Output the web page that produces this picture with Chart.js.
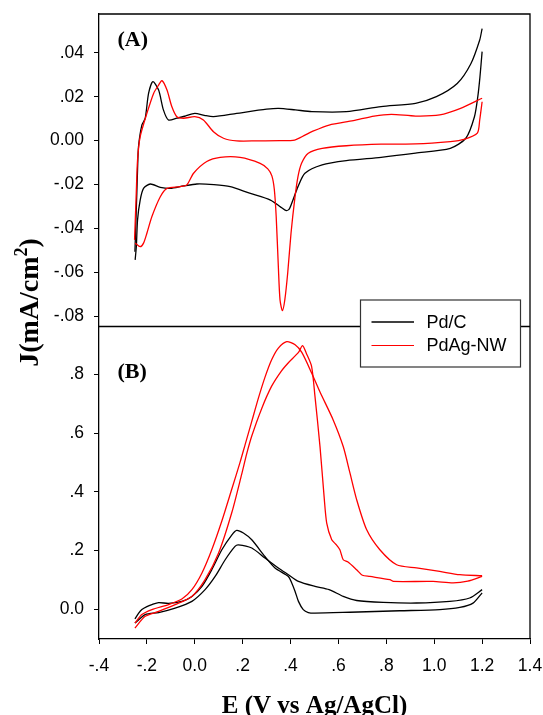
<!DOCTYPE html>
<html>
<head>
<meta charset="utf-8">
<script src="https://cdn.jsdelivr.net/npm/chart.js@4.4.1/dist/chart.umd.min.js"></script>
<style>
html, body { margin: 0; padding: 0; background: #ffffff; }
canvas { display: block; }
</style>
</head>
<body>
<canvas id="c" width="543" height="715"></canvas>
<script>
// ---------- text ----------
const seriesNames = ['Pd/C', 'PdAg-NW'];
const seriesColors = ['#000000', '#ff0000'];
const panelLabels = ['(A)', '(B)'];
const xTitle = 'E (V vs Ag/AgCl)';
const yTitleMain = 'J(mA/cm';
const yTitleSup = '2';
const yTitleEnd = ')';

// ---------- ticks ----------
const xTicks = [-0.4, -0.2, 0.0, 0.2, 0.4, 0.6, 0.8, 1.0, 1.2, 1.4];
const xTickLabels = ['-.4', '-.2', '0.0', '.2', '.4', '.6', '.8', '1.0', '1.2', '1.4'];
const yATicks = [-0.08, -0.06, -0.04, -0.02, 0.0, 0.02, 0.04];
const yATickLabels = ['-.08', '-.06', '-.04', '-.02', '0.00', '.02', '.04'];
const yBTicks = [0.0, 0.2, 0.4, 0.6, 0.8];
const yBTickLabels = ['0.0', '.2', '.4', '.6', '.8'];
const xRange = [-0.4, 1.4];
const yARange = [-0.0845, 0.0576];
const yBRange = [-0.1023, 0.9635];

// ---------- panel A : Pd/C ----------
const pdcA_up_E = [-0.250, -0.242, -0.239, -0.235, -0.221, -0.207, -0.193, -0.175, -0.151, -0.131, -0.110, -0.075, -0.040, 0.000, 0.040, 0.078, 0.175, 0.300, 0.350, 0.420, 0.489, 0.633, 0.778, 0.922, 1.009, 1.096, 1.153, 1.190, 1.200];
const pdcA_up_J = [-0.0505, -0.0239, -0.0133, -0.0027, 0.0071, 0.0102, 0.0215, 0.0268, 0.0230, 0.0140, 0.0094, 0.0102, 0.0112, 0.0124, 0.0115, 0.0109, 0.0124, 0.0143, 0.0147, 0.0140, 0.0132, 0.0132, 0.0155, 0.0170, 0.0200, 0.0260, 0.0350, 0.0458, 0.0510];
const pdcA_down_E = [1.200, 1.191, 1.182, 1.168, 1.132, 1.067, 0.922, 0.778, 0.633, 0.532, 0.460, 0.431, 0.410, 0.395, 0.382, 0.359, 0.316, 0.229, 0.148, 0.080, 0.009, -0.047, -0.103, -0.144, -0.186, -0.214, -0.228, -0.239, -0.244, -0.249];
const pdcA_down_J = [0.0405, 0.0290, 0.0200, 0.0109, 0.0011, -0.0035, -0.0057, -0.0076, -0.0091, -0.0110, -0.0148, -0.0209, -0.0270, -0.0310, -0.0318, -0.0302, -0.0270, -0.0239, -0.0209, -0.0200, -0.0197, -0.0206, -0.0217, -0.0212, -0.0197, -0.0217, -0.0270, -0.0360, -0.0480, -0.0542];

// ---------- panel A : PdAg-NW ----------
const agA_up_E = [-0.2515, -0.2444, -0.239, -0.228, -0.200, -0.172, -0.151, -0.137, -0.116, -0.096, -0.075, -0.047, 0.000, 0.036, 0.078, 0.120, 0.175, 0.260, 0.356, 0.417, 0.460, 0.489, 0.561, 0.662, 0.749, 0.821, 0.922, 1.023, 1.110, 1.200];
const agA_up_J = [-0.0451, -0.0239, -0.0088, 0.0018, 0.0124, 0.0215, 0.0253, 0.0273, 0.0230, 0.0155, 0.0109, 0.0102, 0.0109, 0.0094, 0.0041, 0.0011, -0.0001, -0.0001, 0.0000, 0.0003, 0.0025, 0.0041, 0.0071, 0.0091, 0.0112, 0.0120, 0.0112, 0.0117, 0.0147, 0.0193];
const agA_down_E = [1.200, 1.190, 1.180, 1.125, 1.067, 0.922, 0.778, 0.633, 0.532, 0.474, 0.446, 0.431, 0.417, 0.402, 0.388, 0.376, 0.366, 0.356, 0.349, 0.340, 0.332, 0.322, 0.305, 0.273, 0.189, 0.106, 0.050, -0.005, -0.033, -0.061, -0.116, -0.144, -0.179, -0.200, -0.214, -0.228, -0.249];
const agA_down_J = [0.0177, 0.0094, 0.0034, 0.0006, -0.0004, -0.0015, -0.0016, -0.0023, -0.0035, -0.0057, -0.0103, -0.0164, -0.0270, -0.0420, -0.0603, -0.0724, -0.0773, -0.0724, -0.0573, -0.0345, -0.0220, -0.0160, -0.0128, -0.0103, -0.0076, -0.0076, -0.0095, -0.0148, -0.0201, -0.0209, -0.0217, -0.0255, -0.0345, -0.0421, -0.0466, -0.0482, -0.0466];

// ---------- panel B : Pd/C ----------
const pdcB_1_E = [-0.250, -0.235, -0.221, -0.200, -0.179, -0.151, -0.110, -0.054, -0.012, 0.030, 0.071, 0.113, 0.155, 0.175, 0.203, 0.238, 0.293, 0.335, 0.391, 0.405, 0.419, 0.433, 0.453, 0.474, 0.502, 0.648, 0.856, 1.023, 1.107, 1.162, 1.200];
const pdcB_1_J = [-0.034, -0.015, -0.002, 0.008, 0.015, 0.022, 0.019, 0.026, 0.043, 0.077, 0.134, 0.202, 0.253, 0.268, 0.259, 0.236, 0.179, 0.140, 0.111, 0.089, 0.060, 0.026, -0.002, -0.012, -0.014, -0.011, -0.006, -0.002, 0.0055, 0.020, 0.055];
const pdcB_2_E = [-0.250, -0.241, -0.207, -0.151, -0.082, -0.012, 0.043, 0.085, 0.127, 0.168, 0.182, 0.238, 0.293, 0.349, 0.391, 0.433, 0.502, 0.561, 0.620, 0.676, 0.787, 0.926, 1.065, 1.148, 1.200];
const pdcB_2_J = [-0.048, -0.042, -0.019, -0.012, 0.003, 0.026, 0.066, 0.111, 0.168, 0.2135, 0.219, 0.208, 0.174, 0.140, 0.117, 0.094, 0.077, 0.066, 0.043, 0.029, 0.0226, 0.0205, 0.026, 0.0375, 0.066];

// ---------- panel B : PdAg-NW ----------
const agB_1_E = [-0.250, -0.221, -0.179, -0.110, -0.054, -0.012, 0.030, 0.071, 0.113, 0.155, 0.189, 0.210, 0.238, 0.266, 0.293, 0.321, 0.349, 0.384, 0.419, 0.447, 0.488, 0.523, 0.578, 0.620, 0.648, 0.676, 0.718, 0.773, 0.843, 0.926, 1.023, 1.107, 1.200];
const agB_1_J = [-0.048, -0.019, -0.002, 0.015, 0.034, 0.066, 0.123, 0.202, 0.300, 0.410, 0.500, 0.560, 0.640, 0.720, 0.790, 0.850, 0.890, 0.912, 0.901, 0.875, 0.805, 0.740, 0.645, 0.554, 0.464, 0.373, 0.270, 0.202, 0.151, 0.140, 0.128, 0.117, 0.1135];
const agB_2_E = [-0.250, -0.207, -0.151, -0.082, -0.012, 0.043, 0.099, 0.155, 0.196, 0.217, 0.238, 0.280, 0.321, 0.360, 0.391, 0.433, 0.450, 0.467, 0.488, 0.502, 0.523, 0.540, 0.551, 0.572, 0.590, 0.606, 0.620, 0.640, 0.676, 0.700, 0.731, 0.815, 0.830, 0.995, 1.079, 1.140, 1.200];
const agB_2_J = [-0.065, -0.025, -0.008, 0.015, 0.043, 0.100, 0.190, 0.330, 0.460, 0.530, 0.590, 0.685, 0.760, 0.810, 0.840, 0.875, 0.898, 0.870, 0.827, 0.725, 0.554, 0.384, 0.293, 0.236, 0.220, 0.202, 0.168, 0.160, 0.134, 0.115, 0.111, 0.100, 0.094, 0.094, 0.089, 0.095, 0.111];

// ---------- build ----------
function pts(E, J) { return E.map((e, i) => ({ x: e, y: J[i] })); }
function ds(series, E, J, axis) {
  return {
    label: seriesNames[series],
    data: pts(E, J),
    yAxisID: axis,
    showLine: true,
    borderColor: seriesColors[series],
    backgroundColor: seriesColors[series],
    borderWidth: 1.3,
    pointRadius: 0,
    pointHoverRadius: 0,
    tension: 0.25,
    fill: false,
    order: series === 1 ? 0 : 1
  };
}
function tickLabel(v, vals, labels) {
  for (let i = 0; i < vals.length; i++) if (Math.abs(vals[i] - v) < 1e-9) return labels[i];
  return '';
}
const tickFont = { family: '"Liberation Sans", Arial, sans-serif', size: 17.5 };

function yScale(range, ticks, labels, wt) {
  return {
    type: 'linear',
    position: 'left',
    stack: 'J',
    stackWeight: 1,
    weight: wt,
    min: range[0],
    max: range[1],
    afterBuildTicks: s => { s.ticks = ticks.map(v => ({ value: v })); },
    afterFit: s => { s.width = 99; s.paddingTop = 0; s.paddingBottom = 0; },
    ticks: {
      color: '#000',
      font: tickFont,
      padding: 10,
      callback: v => tickLabel(v, ticks, labels)
    },
    grid: { display: true, drawOnChartArea: false, drawTicks: true, tickLength: 5, tickColor: '#000', tickWidth: 1 },
    border: { display: true, color: '#000', width: 1.3 }
  };
}

const decor = {
  id: 'decor',
  afterDraw(chart) {
    const { ctx, chartArea: a, scales } = chart;
    const yA = scales.yA, yB = scales.yB;
    const topPanel = yA.top < yB.top ? yA : yB;
    const botPanel = yA.top < yB.top ? yB : yA;
    const mid = topPanel.bottom;
    ctx.save();
    // frame (top, right) and panel divider
    ctx.strokeStyle = '#000';
    ctx.lineWidth = 1.3;
    ctx.beginPath();
    ctx.moveTo(a.left, a.top);
    ctx.lineTo(a.right, a.top);
    ctx.lineTo(a.right, a.bottom);
    ctx.stroke();
    ctx.beginPath();
    ctx.moveTo(a.left, mid);
    ctx.lineTo(a.right, mid);
    ctx.stroke();

    // panel labels
    ctx.fillStyle = '#000';
    ctx.font = 'bold 22px "Liberation Serif", "Times New Roman", serif';
    ctx.textAlign = 'left';
    ctx.textBaseline = 'alphabetic';
    ctx.fillText(panelLabels[0], a.left + 18.5, topPanel.top + 32);
    ctx.fillText(panelLabels[1], a.left + 18.5, botPanel.top + 51.5);

    // x title
    ctx.font = 'bold 25px "Liberation Serif", "Times New Roman", serif';
    ctx.textAlign = 'center';
    ctx.fillText(xTitle, (a.left + a.right) / 2, 713);

    // y title (rotated, with superscript)
    const mainFont = 'bold 28px "Liberation Serif", "Times New Roman", serif';
    const supFont = 'bold 18px "Liberation Serif", "Times New Roman", serif';
    ctx.font = mainFont;
    const w1 = ctx.measureText(yTitleMain).width;
    const w3 = ctx.measureText(yTitleEnd).width;
    ctx.font = supFont;
    const w2 = ctx.measureText(yTitleSup).width;
    const total = w1 + w2 + w3;
    ctx.translate(38, 302.5);
    ctx.rotate(-Math.PI / 2);
    ctx.textAlign = 'left';
    const x0 = -total / 2;
    ctx.font = mainFont;
    ctx.fillText(yTitleMain, x0, 0);
    ctx.font = supFont;
    ctx.fillText(yTitleSup, x0 + w1, -11);
    ctx.font = mainFont;
    ctx.fillText(yTitleEnd, x0 + w1 + w2, 0);
    ctx.setTransform(1, 0, 0, 1, 0, 0);

    // legend
    const bx = a.right - 169.5, by = mid - 26.5, bw = 160, bh = 67;
    ctx.fillStyle = '#fff';
    ctx.fillRect(bx, by, bw, bh);
    ctx.strokeStyle = '#333';
    ctx.lineWidth = 1.2;
    ctx.strokeRect(bx, by, bw, bh);
    ctx.font = '18px "Liberation Sans", Arial, sans-serif';
    ctx.textAlign = 'left';
    ctx.textBaseline = 'middle';
    const rowY = [22, 45.5];
    for (let i = 0; i < seriesNames.length; i++) {
      ctx.strokeStyle = seriesColors[i];
      ctx.lineWidth = i === 0 ? 1.6 : 1.2;
      ctx.beginPath();
      ctx.moveTo(bx + 11, by + rowY[i]);
      ctx.lineTo(bx + 53.5, by + rowY[i]);
      ctx.stroke();
      ctx.fillStyle = '#000';
      ctx.fillText(seriesNames[i], bx + 66, by + rowY[i] + 1);
    }
    ctx.restore();
  }
};

new Chart(document.getElementById('c'), {
  type: 'scatter',
  data: {
    datasets: [
      ds(0, pdcA_up_E, pdcA_up_J, 'yA'),
      ds(0, pdcA_down_E, pdcA_down_J, 'yA'),
      ds(1, agA_up_E, agA_up_J, 'yA'),
      ds(1, agA_down_E, agA_down_J, 'yA'),
      ds(0, pdcB_1_E, pdcB_1_J, 'yB'),
      ds(0, pdcB_2_E, pdcB_2_J, 'yB'),
      ds(1, agB_1_E, agB_1_J, 'yB'),
      ds(1, agB_2_E, agB_2_J, 'yB')
    ]
  },
  options: {
    responsive: false,
    animation: false,
    devicePixelRatio: 1,
    layout: { padding: { top: 14, right: 13, left: 0, bottom: 0 } },
    plugins: { legend: { display: false }, tooltip: { enabled: false }, title: { display: false } },
    events: [],
    scales: {
      x: {
        type: 'linear',
        position: 'bottom',
        min: xRange[0],
        max: xRange[1],
        afterBuildTicks: s => { s.ticks = xTicks.map(v => ({ value: v })); },
        afterFit: s => { s.height = 76; s.paddingLeft = 0; s.paddingRight = 0; },
        ticks: { color: '#000', font: tickFont, padding: 12, maxRotation: 0, callback: v => tickLabel(v, xTicks, xTickLabels) },
        grid: { display: true, drawOnChartArea: false, drawTicks: true, tickLength: 5, tickColor: '#000', tickWidth: 1 },
        border: { display: true, color: '#000', width: 1.3 }
      },
      yB: yScale(yBRange, yBTicks, yBTickLabels, 0),
      yA: yScale(yARange, yATicks, yATickLabels, 1)
    }
  },
  plugins: [decor]
});
</script>
</body>
</html>
